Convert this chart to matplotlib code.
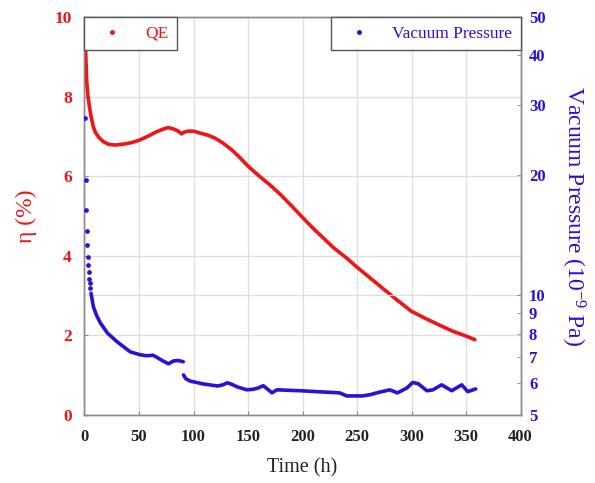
import numpy as np
import matplotlib
matplotlib.use('Agg')
import matplotlib.pyplot as plt
from matplotlib.lines import Line2D

plt.rcParams['font.family'] = ['Liberation Serif', 'DejaVu Serif']
plt.rcParams['mathtext.fontset'] = 'custom'
plt.rcParams['mathtext.rm'] = 'Liberation Serif'
plt.rcParams['mathtext.it'] = 'Liberation Serif:italic'

# QE (%)
qe_t = [0.3, 1, 2, 3, 4.5, 6, 8, 10, 13, 17, 22, 28, 35, 43, 50, 58, 65, 72, 77,
        82, 86, 89, 91, 95, 100, 106, 113, 120, 127, 135, 142, 150, 159, 170, 180,
        190, 200, 210, 220, 228, 240, 250, 262, 274, 287, 300, 313, 326, 338, 350, 358]
qe = [9.9, 9.15, 8.4, 8.05, 7.75, 7.5, 7.25, 7.1, 6.98, 6.87, 6.8, 6.78, 6.8, 6.84,
      6.9, 7.0, 7.1, 7.18, 7.22, 7.18, 7.13, 7.06, 7.1, 7.13, 7.13, 7.08, 7.03, 6.95,
      6.83, 6.66, 6.48, 6.25, 6.03, 5.78, 5.53, 5.25, 4.96, 4.68, 4.42, 4.21, 3.95,
      3.71, 3.44, 3.17, 2.88, 2.6, 2.42, 2.25, 2.1, 1.98, 1.89]

# vacuum pressure (1e-9 Pa): sparse first samples, then the dense record
vac_early_t = [0.5, 1.0, 1.5, 2.0, 2.5, 3.0, 3.5, 4.0, 4.5, 5.0, 5.5]
vac_early_p = [27.9, 19.5, 16.4, 14.5, 13.4, 12.5, 11.9, 11.4, 11.0, 10.7, 10.4]

vac_t = [6, 8.2, 11, 14.6, 21, 30, 42, 51, 57, 63, 67, 72, 77, 81.5, 86, 90.6,
         np.nan,
         90.8, 93, 97, 109, 122, 127, 131, 135, 140, 149, 155, 159, 164, 168, 172,
         176.5, 198, 213, 234, 240.5, 255, 262, 268, 280, 287, 295.6, 301, 306,
         314, 319.5, 327.6, 336.8, 346, 351.5, 358.8]
vac_p = [10.1, 9.34, 8.9, 8.51, 8.03, 7.63, 7.2, 7.08, 7.04, 7.06, 6.96, 6.83, 6.72,
         6.83, 6.85, 6.8,
         np.nan,
         6.3, 6.16, 6.08, 5.98, 5.91, 5.95, 6.02, 5.97, 5.88, 5.78, 5.8, 5.84, 5.92,
         5.8, 5.68, 5.78, 5.75, 5.72, 5.68, 5.58, 5.58, 5.62, 5.68, 5.78, 5.68,
         5.84, 6.03, 5.99, 5.75, 5.78, 5.95, 5.75, 5.95, 5.72, 5.81]

x_ticks = [0, 50, 100, 150, 200, 250, 300, 350, 400]
qe_ticks = [0, 2, 4, 6, 8, 10]
vac_ticks = [5, 6, 7, 8, 9, 20, 30, 40, 50]

red = '#f01414'
blue = '#2a10d8'
grid_c = '#dedede'
spine_c = '#8a8a8a'

fig = plt.figure(figsize=(5.95, 4.83), dpi=100)
ax = fig.add_axes([0.142, 0.141, 0.733, 0.824])
ax2 = ax.twinx()

ax.plot(qe_t, qe, color=red, lw=2.6, solid_capstyle='round', zorder=3)
ax2.plot(vac_t, vac_p, color=blue, lw=2.6, solid_capstyle='round', zorder=3)
ax2.plot(vac_early_t, vac_early_p, ls='none', marker='o', ms=2.4, color=blue, zorder=3)

ax.set_xlim(0, 400)
ax.set_ylim(0, 10)
ax.set_xticks(x_ticks)
ax.set_yticks(qe_ticks)
ax.grid(True, color=grid_c, lw=0.9)
ax.set_axisbelow(True)

ax2.set_yscale('log')
ax2.set_ylim(5, 50)
ax2.set_yticks([10])
ax2.set_yticklabels(['10'])
ax2.set_yticks(vac_ticks, minor=True)
ax2.set_yticklabels([str(v) for v in vac_ticks], minor=True)
ax2.yaxis.grid(True, which='major', color=grid_c, lw=0.9)
ax2.yaxis.grid(False, which='minor')

for a in (ax, ax2):
    for s in a.spines.values():
        s.set_color(spine_c)
        s.set_linewidth(1.0)

ax.tick_params(axis='x', direction='in', length=3, color=spine_c, labelsize=12,
               labelcolor='#222222', pad=10)
ax.tick_params(axis='y', direction='in', length=3, color=spine_c, labelsize=12.5,
               labelcolor=red, pad=9)
ax2.tick_params(axis='y', which='both', direction='in', length=3, color=spine_c,
                labelsize=12, labelcolor=blue, pad=6)
for lab in ax.get_xticklabels() + ax.get_yticklabels():
    lab.set_fontweight('bold')
for lab in ax2.get_yticklabels(which='both'):
    lab.set_fontweight('bold')

ax.set_xlabel('Time (h)', fontsize=14.5, color='#222222', labelpad=10)
ax.set_ylabel('η (%)', fontsize=17, color=red, labelpad=13)
ax2.set_ylabel('Vacuum Pressure (10$^{-9}$ Pa)', fontsize=17, color=blue,
               rotation=270, labelpad=30)

h_qe = Line2D([], [], ls='none', marker='.', ms=5, color=red)
h_vac = Line2D([], [], ls='none', marker='.', ms=5, color=blue)
leg1 = ax2.legend([h_qe], ['QE'], loc='upper left', borderaxespad=0, fancybox=False,
                  edgecolor='#555555', framealpha=1, fontsize=12.5, labelcolor=red,
                  handlelength=2.2, handletextpad=0.8, borderpad=0.5)
leg1.get_frame().set_linewidth(1.0)
ax2.add_artist(leg1)
leg2 = ax2.legend([h_vac], ['Vacuum Pressure'], loc='upper right', borderaxespad=0,
                  fancybox=False, edgecolor='#555555', framealpha=1, fontsize=12.5,
                  labelcolor=blue, handlelength=2.2, handletextpad=0.8, borderpad=0.5)
leg2.get_frame().set_linewidth(1.0)

fig.savefig('out.png', dpi=100)
plt.close(fig)
